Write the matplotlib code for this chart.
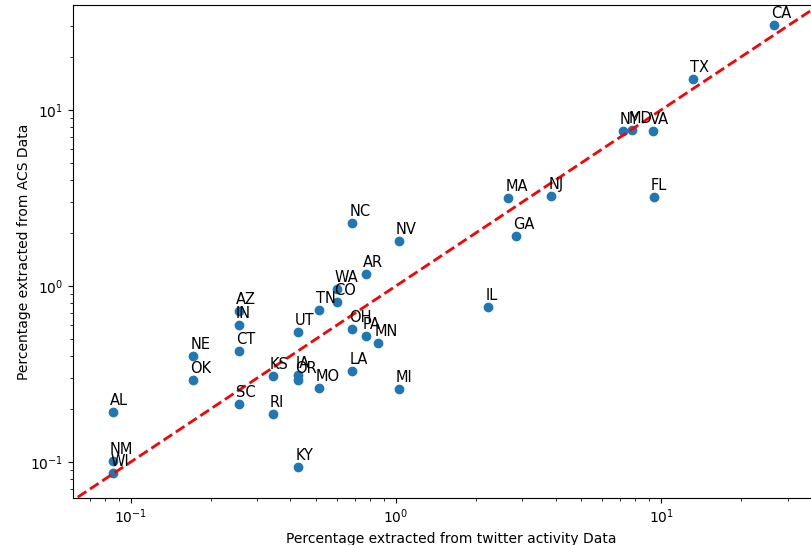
import numpy as np
import matplotlib.pyplot as plt

# state abbreviations with twitter-derived and ACS percentages
states = ['CA', 'TX', 'NY', 'MD', 'VA', 'FL', 'MA', 'NJ', 'GA', 'IL',
          'NC', 'NV', 'AR', 'WA', 'CO', 'TN', 'AZ', 'IN', 'UT', 'OH',
          'PA', 'MN', 'CT', 'NE', 'OK', 'KS', 'IA', 'OR', 'MO', 'LA',
          'MI', 'SC', 'RI', 'KY', 'AL', 'NM', 'WI']
twitter_pct = [26.6, 13.15, 7.16, 7.76, 9.32, 9.4, 2.65, 3.85, 2.83, 2.23,
               0.685, 1.027, 0.771, 0.60, 0.60, 0.513, 0.256, 0.256, 0.428, 0.684,
               0.771, 0.856, 0.256, 0.172, 0.172, 0.344, 0.428, 0.428, 0.513, 0.684,
               1.027, 0.256, 0.344, 0.428, 0.0858, 0.0858, 0.0858]
acs_pct = [30.4, 15.0, 7.6, 7.69, 7.6, 3.21, 3.15, 3.26, 1.92, 0.762,
           2.27, 1.79, 1.166, 0.96, 0.811, 0.731, 0.721, 0.60, 0.548, 0.57,
           0.52, 0.474, 0.428, 0.40, 0.292, 0.308, 0.312, 0.292, 0.263, 0.329,
           0.260, 0.214, 0.1875, 0.0937, 0.192, 0.1013, 0.0866]

fig = plt.figure(figsize=(8.12, 5.45), dpi=100)
ax = fig.add_axes([72.7 / 812, 47 / 545, (830 - 72.7) / 812, 493.3 / 545])

ax.scatter(twitter_pct, acs_pct)
for name, x, y in zip(states, twitter_pct, acs_pct):
    ax.annotate(name, (x, y), xytext=(-3, 7), textcoords='offset pixels', fontsize=10.5)

ref = np.array([0.03, 60])
ax.plot(ref, ref, 'r--', lw=2)

ax.set_xscale('log')
ax.set_yscale('log')
ax.set_xlim(10 ** -1.2187, 10 ** 1.637)
ax.set_ylim(10 ** -1.2045, 10 ** 1.598)
ax.set_xlabel('Percentage extracted from twitter activity Data', fontsize=10)
ax.set_ylabel('Percentage extracted from ACS Data', fontsize=10, labelpad=-1)
ax.tick_params(labelsize=10)

fig.savefig('out.png', dpi=100)
